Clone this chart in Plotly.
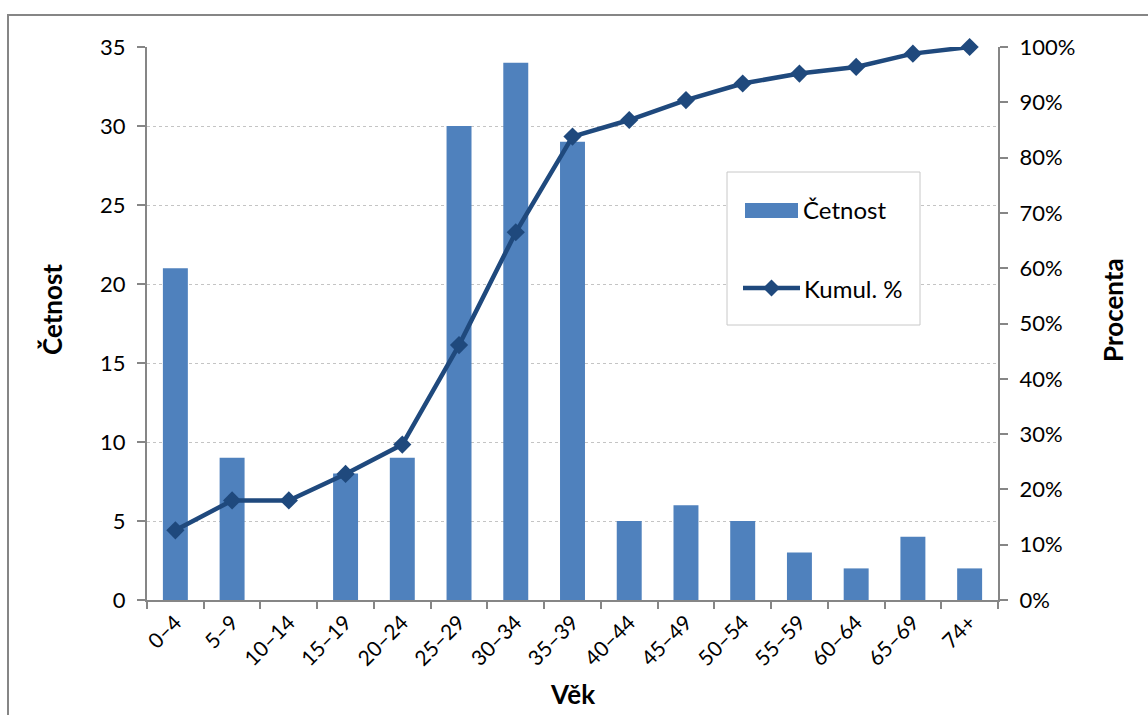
import plotly.graph_objects as go

# Age groups and frequencies
age_groups = ["0–4", "5–9", "10–14", "15–19", "20–24", "25–29", "30–34", "35–39",
              "40–44", "45–49", "50–54", "55–59", "60–64", "65–69", "74+"]
counts = [21, 9, 0, 8, 9, 30, 34, 29, 5, 6, 5, 3, 2, 4, 2]
cumulative_pct = [0.126, 0.180, 0.180, 0.228, 0.281, 0.461, 0.665, 0.838,
                  0.868, 0.904, 0.934, 0.952, 0.964, 0.988, 1.000]

count_ticks = [0, 5, 10, 15, 20, 25, 30, 35]
pct_ticks = [0, 0.1, 0.2, 0.3, 0.4, 0.5, 0.6, 0.7, 0.8, 0.9, 1.0]

BAR = "#4F81BD"
LINE = "#1F497D"
AXIS = "#868686"
FONT = "Lato, Open Sans, sans-serif"

W, H = 1148, 715
L, R, T, B = 147, 150, 47, 115
PW, PH = W - L - R, H - T - B


def px(x):
    return (x - L) / PW


def py(y):
    return (H - B - y) / PH


fig = go.Figure()
fig.add_trace(go.Bar(
    x=age_groups, y=counts, name="Četnost",
    marker=dict(color=BAR, line=dict(width=0)),
    yaxis="y", showlegend=False,
))
fig.add_trace(go.Scatter(
    x=age_groups, y=cumulative_pct, name="Kumul. %",
    mode="lines+markers",
    line=dict(color=LINE, width=4.5),
    marker=dict(symbol="diamond", size=14, color=LINE),
    yaxis="y2", showlegend=False, cliponaxis=False,
))

shapes = [
    # outer chart border
    dict(type="rect", xref="paper", yref="paper",
         x0=px(8), y0=py(730), x1=px(1170), y1=py(15),
         line=dict(color=AXIS, width=2), layer="below"),
    # legend box
    dict(type="rect", xref="paper", yref="paper",
         x0=px(727), y0=py(325), x1=px(920), y1=py(172),
         line=dict(color="#c8c8c8", width=1), fillcolor="white", layer="above"),
    # legend bar swatch
    dict(type="rect", xref="paper", yref="paper",
         x0=px(745), y0=py(218), x1=px(798), y1=py(203),
         line=dict(width=0), fillcolor=BAR, layer="above"),
    # legend line swatch
    dict(type="line", xref="paper", yref="paper",
         x0=px(743), y0=py(288), x1=px(800), y1=py(288),
         line=dict(color=LINE, width=4.5), layer="above"),
]
cx, cy, d = 771.5, 288, 8.5
shapes.append(dict(
    type="path", xref="paper", yref="paper",
    path=(f"M {px(cx - d)} {py(cy)} L {px(cx)} {py(cy - d)} "
          f"L {px(cx + d)} {py(cy)} L {px(cx)} {py(cy + d)} Z"),
    fillcolor=LINE, line=dict(width=0), layer="above"))

annotations = [
    dict(text="Četnost", xref="paper", yref="paper", x=px(801), y=py(210),
         xanchor="left", yanchor="middle", showarrow=False,
         font=dict(size=24, color="black", family=FONT)),
    dict(text="Kumul. %", xref="paper", yref="paper", x=px(802), y=py(288),
         xanchor="left", yanchor="middle", showarrow=False,
         font=dict(size=24, color="black", family=FONT)),
    dict(text="<b>Četnost</b>", xref="paper", yref="paper", x=px(52), y=py(310),
         xanchor="center", yanchor="middle", showarrow=False, textangle=-90,
         font=dict(size=26, color="black", family=FONT)),
    dict(text="<b>Procenta</b>", xref="paper", yref="paper", x=px(1113), y=py(310),
         xanchor="center", yanchor="middle", showarrow=False, textangle=-90,
         font=dict(size=26, color="black", family=FONT)),
    dict(text="<b>Věk</b>", xref="paper", yref="paper", x=px(572), y=py(694),
         xanchor="center", yanchor="middle", showarrow=False,
         font=dict(size=26, color="black", family=FONT)),
]

fig.update_layout(
    width=W, height=H,
    margin=dict(l=L, r=R, t=T, b=B),
    paper_bgcolor="white", plot_bgcolor="white",
    font=dict(family=FONT, size=22, color="black"),
    bargap=0.56,
    showlegend=False,
    shapes=shapes,
    annotations=annotations,
    xaxis=dict(
        type="category", range=[-0.5, len(age_groups) - 0.5],
        tickangle=-45, tickson="boundaries",
        ticks="outside", ticklen=7, tickcolor=AXIS, tickwidth=2,
        showline=True, linecolor=AXIS, linewidth=2,
        showgrid=False, tickfont=dict(size=21),
    ),
    yaxis=dict(
        range=[0, 35], tickvals=count_ticks,
        ticks="outside", ticklen=8, tickcolor=AXIS, tickwidth=2,
        showline=True, linecolor=AXIS, linewidth=2,
        showgrid=True, gridcolor="#c4c4c4", gridwidth=1, griddash="dot",
        zeroline=False, tickfont=dict(size=22), ticklabelstandoff=7,
    ),
    yaxis2=dict(
        range=[0, 1], tickvals=pct_ticks, tickformat=".0%",
        overlaying="y", side="right",
        ticks="outside", ticklen=8, tickcolor=AXIS, tickwidth=2,
        showline=True, linecolor=AXIS, linewidth=2,
        showgrid=False, zeroline=False, tickfont=dict(size=22),
        ticklabelstandoff=7,
    ),
)

fig.write_html("out.html")
